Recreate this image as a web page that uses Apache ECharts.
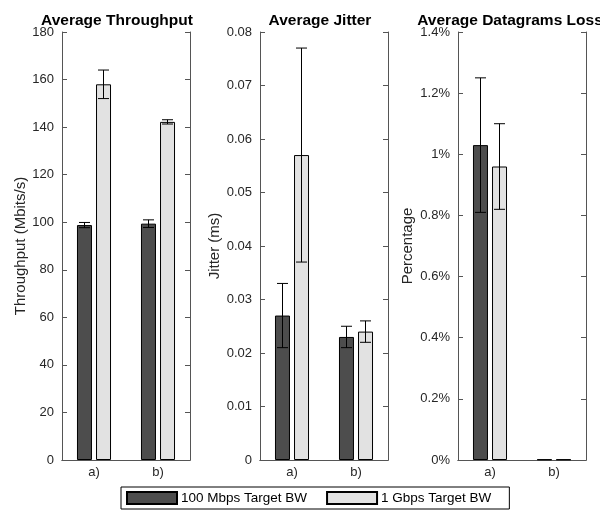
<!DOCTYPE html>
<html>
<head>
<meta charset="utf-8">
<script src="https://cdn.jsdelivr.net/npm/echarts@6/dist/echarts.min.js"></script>
<style>
  html, body { margin: 0; padding: 0; background: #fff; }
  #chart { width: 600px; height: 512px; }
</style>
</head>
<body>
<div id="chart"></div>
<script>
  // categories + values
  var categories = ['a)', 'b)'];
  var seriesNames = ['100 Mbps Target BW', '1 Gbps Target BW'];

  var throughputDark = [98.8, 99.4];
  var throughputDarkErr = [1.1, 1.6];
  var throughputLight = [158, 142.2];
  var throughputLightErr = [6, 0.9];

  var jitterDark = [0.027, 0.023];
  var jitterDarkErr = [0.006, 0.002];
  var jitterLight = [0.057, 0.024];
  var jitterLightErr = [0.02, 0.002];

  var lossDark = [1.03, 0.002];
  var lossDarkErr = [0.22, 0];
  var lossLight = [0.96, 0.002];
  var lossLightErr = [0.14, 0];

  var panels = [
    {title: 'Average Throughput', yName: 'Throughput (Mbits/s)', min: 0, max: 180, interval: 20,
      dark: throughputDark, darkErr: throughputDarkErr, light: throughputLight, lightErr: throughputLightErr,
      left: 62, titleX: 112, nameGap: 33, fmt: function (v) { return v; }},
    {title: 'Average Jitter', yName: 'Jitter (ms)', min: 0, max: 0.08, interval: 0.01,
      dark: jitterDark, darkErr: jitterDarkErr, light: jitterLight, lightErr: jitterLightErr,
      left: 260, titleX: 315, nameGap: 34, fmt: function (v) { return +v.toFixed(2); }},
    {title: 'Average Datagrams Loss', yName: 'Percentage', min: 0, max: 1.4, interval: 0.2,
      dark: lossDark, darkErr: lossDarkErr, light: lossLight, lightErr: lossLightErr,
      left: 458, titleX: 505, nameGap: 43, fmt: function (v) { return +v.toFixed(1) + '%'; }}
  ];

  var axisColor = '#555';
  var labelColor = '#262626';
  var font = 'Liberation Sans, Arial, sans-serif';

  function errBars(offset) {
    return function (params, api) {
      var x = api.value(0);
      var lo = api.coord([x, api.value(1)]);
      var hi = api.coord([x, api.value(2)]);
      var cx = lo[0] + offset;
      var w = 5.5;
      var st = {stroke: '#000', lineWidth: 1};
      return {
        type: 'group',
        children: [
          {type: 'line', shape: {x1: cx, y1: lo[1], x2: cx, y2: hi[1]}, style: st},
          {type: 'line', shape: {x1: cx - w, y1: lo[1], x2: cx + w, y2: lo[1]}, style: st},
          {type: 'line', shape: {x1: cx - w, y1: hi[1], x2: cx + w, y2: hi[1]}, style: st}
        ]
      };
    };
  }

  function errData(vals, errs) {
    var out = [];
    for (var i = 0; i < vals.length; i++) {
      if (errs[i] > 0) out.push([i, vals[i] - errs[i], vals[i] + errs[i]]);
    }
    return out;
  }

  var grid = [], xAxis = [], yAxis = [], series = [], title = [];

  panels.forEach(function (p, i) {
    grid.push({left: p.left, width: 128, top: 32, bottom: 52});
    title.push({
      text: p.title, left: p.titleX, top: 8, textAlign: 'center',
      textStyle: {fontFamily: font, fontSize: 15.5, fontWeight: 'bold', color: '#000'}
    });
    // bottom category axis
    xAxis.push({
      type: 'category', data: categories, gridIndex: i, position: 'bottom',
      axisLine: {lineStyle: {color: axisColor}},
      axisTick: {inside: true, alignWithLabel: true, length: 5, lineStyle: {color: axisColor}},
      axisLabel: {color: labelColor, fontFamily: font, fontSize: 13, margin: 6}
    });
    // top axis, ticks only (box look)
    xAxis.push({
      type: 'category', data: categories, gridIndex: i, position: 'top',
      axisLine: {lineStyle: {color: axisColor}},
      axisTick: {inside: true, alignWithLabel: true, length: 5, lineStyle: {color: axisColor}},
      axisLabel: {show: false}
    });
    yAxis.push({
      type: 'value', gridIndex: i, position: 'left', min: p.min, max: p.max, interval: p.interval,
      name: p.yName, nameLocation: 'middle', nameGap: p.nameGap,
      nameTextStyle: {color: labelColor, fontFamily: font, fontSize: 15},
      axisLine: {show: true, lineStyle: {color: axisColor}},
      axisTick: {show: true, inside: true, length: 5, lineStyle: {color: axisColor}},
      axisLabel: {color: labelColor, fontFamily: font, fontSize: 13, formatter: p.fmt},
      splitLine: {show: false}
    });
    yAxis.push({
      type: 'value', gridIndex: i, position: 'right', min: p.min, max: p.max, interval: p.interval,
      axisLine: {show: true, lineStyle: {color: axisColor}},
      axisTick: {show: true, inside: true, length: 5, lineStyle: {color: axisColor}},
      axisLabel: {show: false},
      splitLine: {show: false}
    });

    var xi = i * 2, yi = i * 2;
    series.push({
      name: seriesNames[0], type: 'bar', xAxisIndex: xi, yAxisIndex: yi,
      data: p.dark, barWidth: 15, barGap: '27%',
      itemStyle: {color: '#4d4d4d', borderColor: '#000', borderWidth: 1},
      emphasis: {disabled: true}
    });
    series.push({
      name: seriesNames[1], type: 'bar', xAxisIndex: xi, yAxisIndex: yi,
      data: p.light, barWidth: 15, barGap: '27%',
      itemStyle: {color: '#e2e2e2', borderColor: '#000', borderWidth: 1},
      emphasis: {disabled: true}
    });
    series.push({
      type: 'custom', xAxisIndex: xi, yAxisIndex: yi, z: 5,
      renderItem: errBars(-9.5), data: errData(p.dark, p.darkErr)
    });
    series.push({
      type: 'custom', xAxisIndex: xi, yAxisIndex: yi, z: 5,
      renderItem: errBars(9.5), data: errData(p.light, p.lightErr)
    });
  });

  var chart = echarts.init(document.getElementById('chart'));
  chart.setOption({
    animation: false,
    title: title,
    grid: grid,
    xAxis: xAxis,
    yAxis: yAxis,
    legend: {
      data: seriesNames,
      left: 121, top: 487,
      itemWidth: 50, itemHeight: 12, itemGap: 19,
      padding: [4, 18, 4, 5],
      borderColor: '#000', borderWidth: 1,
      icon: 'rect',
      textStyle: {color: '#000', fontFamily: font, fontSize: 13.5, padding: [0, 0, 0, -1]}
    },
    series: series
  });
</script>
</body>
</html>
